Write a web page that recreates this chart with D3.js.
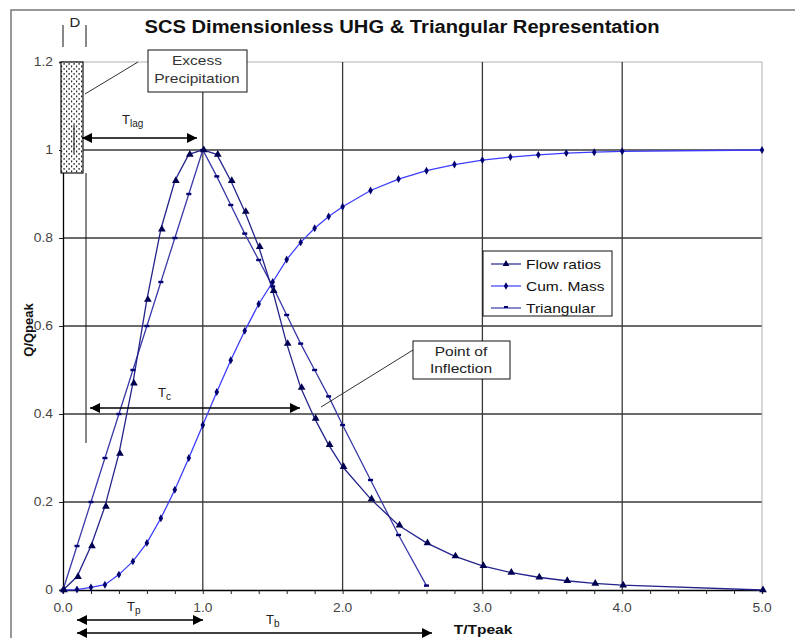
<!DOCTYPE html>
<html><head><meta charset="utf-8">
<script src="https://cdn.jsdelivr.net/npm/d3@7/dist/d3.min.js"></script>
<style>
html,body{margin:0;padding:0;background:#fff;}
svg{display:block;font-family:"Liberation Sans",Arial,sans-serif;}
</style></head>
<body>
<svg id="c" width="795" height="638"></svg>
<script>
// ---- data ----
const flowT = [0,0.1,0.2,0.3,0.4,0.5,0.6,0.7,0.8,0.9,1.0,1.1,1.2,1.3,1.4,1.5,1.6,1.7,1.8,1.9,2.0,2.2,2.4,2.6,2.8,3.0,3.2,3.4,3.6,3.8,4.0,5.0];
const flowQ = [0,0.03,0.10,0.19,0.31,0.47,0.66,0.82,0.93,0.99,1.00,0.99,0.93,0.86,0.78,0.68,0.56,0.46,0.39,0.33,0.28,0.207,0.147,0.107,0.077,0.055,0.040,0.029,0.021,0.015,0.011,0.000];
const massQ = [0,0.001,0.006,0.012,0.035,0.065,0.107,0.163,0.228,0.300,0.375,0.450,0.522,0.589,0.650,0.700,0.751,0.790,0.822,0.849,0.871,0.908,0.934,0.953,0.967,0.977,0.984,0.989,0.993,0.995,0.997,1.000];
const triT = [0,0.1,0.2,0.3,0.4,0.5,0.6,0.7,0.8,0.9,1.0,1.1,1.2,1.3,1.4,1.5,1.6,1.7,1.8,1.9,2.0,2.2,2.4,2.6];
const triQ = [0,0.1,0.2,0.3,0.4,0.5,0.6,0.7,0.8,0.9,1.0,0.94,0.875,0.81,0.75,0.69,0.625,0.56,0.50,0.44,0.375,0.25,0.125,0.01];
const xTicks = [0,1,2,3,4,5];
const xTickLabels = ["0.0","1.0","2.0","3.0","4.0","5.0"];
const yTicks = [0,0.2,0.4,0.6,0.8,1.0,1.2];
const yTickLabels = ["0","0.2","0.4","0.6","0.8","1","1.2"];
const seriesNames = ["Flow ratios","Cum. Mass","Triangular"];
const titleText = "SCS Dimensionless UHG & Triangular Representation";

// ---- setup ----
const svg = d3.select("#c");
const x = d3.scaleLinear().domain([0,5]).range([63,762]);
const y = d3.scaleLinear().domain([0,1.2]).range([590,62]);
const colFlow="#24248c", colMass="#3d3dff", colTri="#3a3aa8", colMk="#000070";

const defs = svg.append("defs");
defs.append("marker").attr("id","ah").attr("viewBox","0 0 10 10").attr("refX",10).attr("refY",5)
  .attr("markerWidth",13).attr("markerHeight",10).attr("markerUnits","userSpaceOnUse").attr("orient","auto-start-reverse")
  .append("path").attr("d","M0,0L10,5L0,10Z").attr("fill","#000");
const pat = defs.append("pattern").attr("id","dots").attr("patternUnits","userSpaceOnUse").attr("width",5).attr("height",5);
pat.append("rect").attr("width",5).attr("height",5).attr("fill","#fff");
pat.append("rect").attr("x",1).attr("y",0.5).attr("width",1.2).attr("height",1.8).attr("fill","#222");
pat.append("rect").attr("x",3.5).attr("y",3).attr("width",1.2).attr("height",1.8).attr("fill","#222");

// outer frame
svg.append("rect").attr("x",11).attr("y",10).attr("width",820).attr("height",700).attr("fill","none").attr("stroke","#777").attr("stroke-width",1.5);

// title
svg.append("text").attr("x",402).attr("y",33).attr("text-anchor","middle").attr("font-size",17.5).attr("font-weight","bold").attr("fill","#111")
  .attr("textLength",515).attr("lengthAdjust","spacingAndGlyphs").text(titleText);

// grid
const g = svg.append("g");
g.selectAll(".hg").data(yTicks.filter(d=>d>0)).join("line")
  .attr("x1",x(0)).attr("x2",x(5)).attr("y1",d=>y(d)).attr("y2",d=>y(d))
  .attr("stroke",d=>d>1.1?"#b0b0b0":"#3a3a3a").attr("stroke-width",d=>d>1.1?1:1.3);
g.selectAll(".vg").data(xTicks.filter(d=>d>0)).join("line")
  .attr("x1",d=>x(d)).attr("x2",d=>x(d)).attr("y1",y(0)).attr("y2",y(1.2))
  .attr("stroke",d=>d>4.5?"#b0b0b0":"#3a3a3a").attr("stroke-width",d=>d>4.5?1:1.3);

// axes
const xAxis = d3.axisBottom(x).tickValues(d3.range(0,5.01,0.2)).tickSize(4).tickFormat("");
svg.append("g").attr("transform",`translate(0,${y(0)})`).call(xAxis)
  .call(a=>a.select(".domain").attr("stroke","#000").attr("stroke-width",1.3))
  .call(a=>a.selectAll("line").attr("stroke","#222"));
svg.append("g").selectAll("text").data(xTicks).join("text").attr("class","s")
  .attr("x",d=>x(d)).attr("y",612).attr("text-anchor","middle").attr("font-size",12).attr("fill","#444")
  .text((d,i)=>xTickLabels[i]);
const yAxis = d3.axisLeft(y).tickValues(yTicks).tickSize(4).tickFormat((d,i)=>yTickLabels[i]);
svg.append("g").attr("transform",`translate(${x(0)},0)`).call(yAxis)
  .call(a=>a.select(".domain").attr("stroke","#000").attr("stroke-width",1.3))
  .call(a=>a.selectAll("line").attr("stroke","#222"))
  .call(a=>a.selectAll("text").attr("class","s").attr("font-size",12).attr("fill","#444").attr("x",-10).attr("font-family","Liberation Sans, Arial, sans-serif"));

// axis titles
svg.append("text").attr("transform","translate(33,330) rotate(-90)").attr("text-anchor","middle").attr("font-size",13).attr("font-weight","bold").attr("fill","#111").text("Q/Qpeak");
svg.append("text").attr("class","s").attr("x",483).attr("y",634).attr("text-anchor","middle").attr("font-size",13.5).attr("font-weight","bold").attr("fill","#111").text("T/Tpeak");

// series
const line = d3.line().x(d=>x(d[0])).y(d=>y(d[1]));
const flowData = flowT.map((t,i)=>[t,flowQ[i]]);
const massData = flowT.map((t,i)=>[t,massQ[i]]);
const triData = triT.map((t,i)=>[t,triQ[i]]);
svg.append("path").datum(massData).attr("d",line).attr("fill","none").attr("stroke",colMass).attr("stroke-width",1.3);
svg.append("path").datum(triData).attr("d",line).attr("fill","none").attr("stroke",colTri).attr("stroke-width",1.3);
svg.append("path").datum(flowData).attr("d",line).attr("fill","none").attr("stroke",colFlow).attr("stroke-width",1.3);

const tri = d3.symbol().type(d3.symbolTriangle).size(26);
const dia = d3.symbol().type(d3.symbolDiamond).size(18);
svg.append("g").selectAll("path").data(massData).join("path").attr("d",dia)
  .attr("transform",d=>`translate(${x(d[0])},${y(d[1])})`).attr("fill",colMk);
svg.append("g").selectAll("rect").data(triData).join("rect")
  .attr("x",d=>x(d[0])-2.5).attr("y",d=>y(d[1])-1.2).attr("width",5).attr("height",2.4).attr("fill",colMk);
svg.append("g").selectAll("path").data(flowData).join("path").attr("d",tri)
  .attr("transform",d=>`translate(${x(d[0])+1},${y(d[1])})`).attr("fill","#000050");

// legend
const lg = svg.append("g");
lg.append("rect").attr("x",483).attr("y",251).attr("width",129).attr("height",65).attr("fill","#fff").attr("stroke","#111");
const lcols=[colFlow,colMass,colTri];
seriesNames.forEach((n,i)=>{
  const yy = 264 + i*22;
  lg.append("line").attr("x1",491).attr("x2",521).attr("y1",yy).attr("y2",yy).attr("stroke",lcols[i]).attr("stroke-width",1.2);
  if(i===0) lg.append("path").attr("d",d3.symbol().type(d3.symbolTriangle).size(20)).attr("transform",`translate(506,${yy})`).attr("fill","#000050");
  if(i===1) lg.append("path").attr("d",d3.symbol().type(d3.symbolDiamond).size(16)).attr("transform",`translate(506,${yy})`).attr("fill",colMk);
  if(i===2) lg.append("rect").attr("x",504).attr("y",yy-2).attr("width",4).attr("height",2).attr("fill",colMk);
  lg.append("text").attr("class","s").attr("x",526).attr("y",yy+5).attr("font-size",13.5).attr("fill","#111").text(n);
});

// ---- annotations ----
const an = svg.append("g");
// rainfall bar
an.append("rect").attr("x",61).attr("y",62).attr("width",22).attr("height",111).attr("fill","url(#dots)").attr("stroke","#111").attr("stroke-width",1.2);
an.append("line").attr("x1",74).attr("x2",74).attr("y1",125).attr("y2",153).attr("stroke","#111");
// D dimension
an.append("line").attr("x1",63).attr("x2",63).attr("y1",25).attr("y2",47).attr("stroke","#111");
an.append("line").attr("x1",86).attr("x2",86).attr("y1",25).attr("y2",47).attr("stroke","#111");
an.append("line").attr("x1",86).attr("x2",86).attr("y1",173).attr("y2",443).attr("stroke","#111");
an.append("text").attr("class","s").attr("x",75).attr("y",27).attr("text-anchor","middle").attr("font-size",13).attr("fill","#222").text("D");
// Excess precipitation
an.append("line").attr("x1",138).attr("y1",62).attr("x2",85).attr("y2",94).attr("stroke","#333");
an.append("rect").attr("x",148).attr("y",50).attr("width",99).attr("height",42).attr("fill","#fff").attr("stroke","#111");
an.append("text").attr("class","s").attr("x",197).attr("y",65).attr("text-anchor","middle").attr("font-size",13.5).attr("fill","#333").text("Excess");
an.append("text").attr("class","s").attr("x",197).attr("y",83).attr("text-anchor","middle").attr("font-size",13.5).attr("fill","#333").text("Precipitation");
// Tlag
an.append("line").attr("x1",82).attr("x2",197).attr("y1",138).attr("y2",138).attr("stroke","#000").attr("stroke-width",1.3)
  .attr("marker-start","url(#ah)").attr("marker-end","url(#ah)");
const tl = an.append("text").attr("x",122).attr("y",124).attr("font-size",13).attr("fill","#222");
tl.append("tspan").text("T"); tl.append("tspan").attr("dy",3).attr("font-size",10).text("lag");
// Tc
an.append("line").attr("x1",90).attr("x2",300).attr("y1",408).attr("y2",408).attr("stroke","#000").attr("stroke-width",1.3)
  .attr("marker-start","url(#ah)").attr("marker-end","url(#ah)");
const tc = an.append("text").attr("x",158).attr("y",397).attr("font-size",13).attr("fill","#222");
tc.append("tspan").text("T"); tc.append("tspan").attr("dy",3).attr("font-size",10).text("c");
// Point of inflection
an.append("line").attr("x1",413).attr("y1",350).attr("x2",321).attr("y2",407).attr("stroke","#333");
an.append("rect").attr("x",413).attr("y",341).attr("width",97).attr("height",38).attr("fill","#fff").attr("stroke","#111");
an.append("text").attr("class","s").attr("x",461).attr("y",356).attr("text-anchor","middle").attr("font-size",13.5).attr("fill","#222").text("Point of");
an.append("text").attr("class","s").attr("x",461).attr("y",373).attr("text-anchor","middle").attr("font-size",13.5).attr("fill","#222").text("Inflection");
// Tp
an.append("line").attr("x1",77).attr("x2",203).attr("y1",620).attr("y2",620).attr("stroke","#000").attr("stroke-width",1.3)
  .attr("marker-start","url(#ah)").attr("marker-end","url(#ah)");
const tp = an.append("text").attr("x",127).attr("y",611).attr("font-size",13).attr("fill","#222");
tp.append("tspan").text("T"); tp.append("tspan").attr("dy",3).attr("font-size",10).text("p");
// Tb
an.append("line").attr("x1",77).attr("x2",432).attr("y1",633).attr("y2",633).attr("stroke","#000").attr("stroke-width",1.3)
  .attr("marker-start","url(#ah)").attr("marker-end","url(#ah)");
const tb = an.append("text").attr("x",266).attr("y",624).attr("font-size",13).attr("fill","#222");
tb.append("tspan").text("T"); tb.append("tspan").attr("dy",3).attr("font-size",10).text("b");

// horizontal widening of text to match the reference's wide glyphs
svg.selectAll("text.s").each(function(){
  const w = this.getComputedTextLength();
  d3.select(this).attr("textLength", w*1.15).attr("lengthAdjust","spacingAndGlyphs");
});
</script>
</body></html>
